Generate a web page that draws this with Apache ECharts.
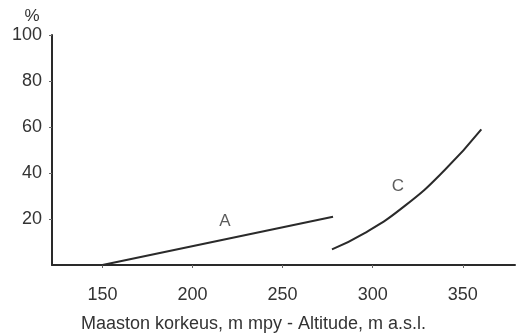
<!DOCTYPE html>
<html>
<head>
<meta charset="utf-8">
<script src="https://cdn.jsdelivr.net/npm/echarts@6/dist/echarts.min.js"></script>
<style>
  html, body { margin: 0; padding: 0; background: #fff; }
  #chart { width: 516px; height: 336px; }
</style>
</head>
<body>
<div id="chart"></div>
<script>
// Share (%) against terrain altitude (m a.s.l.)
const xTicks = [150, 200, 250, 300, 350];
const yTicks = [20, 40, 60, 80, 100];

// Curve A: altitude, percent
const altitudeA = [150, 278];
const percentA = [0, 21];

// Curve C: altitude, percent
const altitudeC = [277.4, 295, 318, 340, 360.3];
const percentC = [6.8, 13.6, 25.8, 41.3, 59];

const pairs = (xs, ys) => xs.map((x, i) => [x, ys[i]]);

const FONT = '"Liberation Sans", Arial, sans-serif';
const INK = '#2a2a2a';
const TEXT = '#333';

const chart = echarts.init(document.getElementById('chart'), null, { renderer: 'canvas' });
chart.setOption({
  animation: false,
  backgroundColor: '#fff',
  grid: { left: 52, right: 1, top: 35, bottom: 71, containLabel: false, outerBoundsMode: 'none' },
  xAxis: {
    type: 'value',
    min: 122,
    max: 379,
    name: 'Maaston korkeus, m mpy - Altitude, m a.s.l.',
    nameLocation: 'middle',
    nameGap: 50,
    nameTextStyle: { fontFamily: FONT, fontSize: 18, color: TEXT, padding: [0, 60, 0, 0] },
    axisLine: { show: true, onZero: false, lineStyle: { color: INK, width: 2 } },
    axisTick: { show: true, customValues: xTicks, length: 3, lineStyle: { color: '#666', width: 1 } },
    axisLabel: { customValues: xTicks, margin: 21, fontFamily: FONT, fontSize: 18, color: TEXT },
    splitLine: { show: false }
  },
  yAxis: {
    type: 'value',
    min: 0,
    max: 100,
    interval: 20,
    name: '%',
    nameLocation: 'end',
    nameGap: 10,
    nameTextStyle: { fontFamily: FONT, fontSize: 17, color: TEXT, padding: [0, 40, 0, 0] },
    axisLine: { show: true, lineStyle: { color: INK, width: 2 } },
    axisTick: { show: true, customValues: yTicks, length: 3, lineStyle: { color: '#666', width: 1 } },
    axisLabel: { customValues: yTicks, margin: 10, fontFamily: FONT, fontSize: 18, color: TEXT },
    splitLine: { show: false }
  },
  series: [
    {
      name: 'A',
      type: 'line',
      data: pairs(altitudeA, percentA),
      showSymbol: false,
      lineStyle: { color: INK, width: 2 }
    },
    {
      name: 'C',
      type: 'line',
      smooth: true,
      data: pairs(altitudeC, percentC),
      showSymbol: false,
      lineStyle: { color: INK, width: 2 }
    },
    {
      // curve captions
      type: 'scatter',
      symbolSize: 0,
      silent: true,
      data: [
        { value: [218, 19], name: 'A' },
        { value: [314, 34], name: 'C' }
      ],
      label: {
        show: true,
        position: 'inside',
        formatter: p => p.name,
        fontFamily: FONT,
        fontSize: 17,
        color: TEXT
      }
    }
  ]
});
</script>
</body>
</html>
